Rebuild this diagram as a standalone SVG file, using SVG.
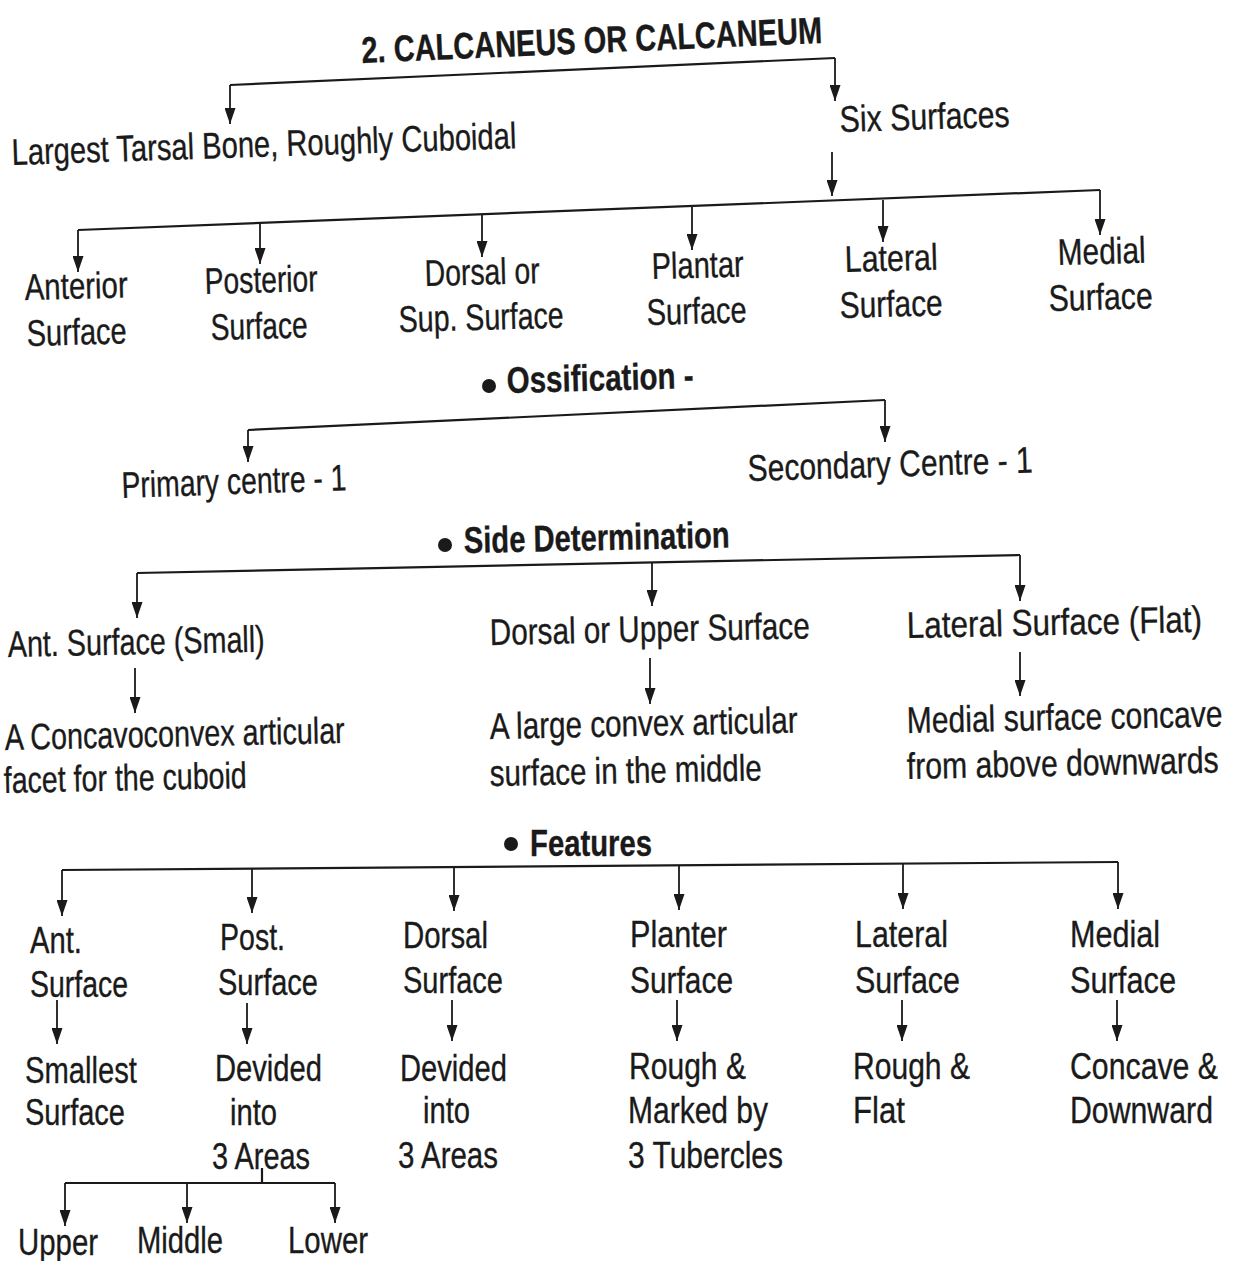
<svg xmlns="http://www.w3.org/2000/svg" width="1247" height="1261" viewBox="0 0 1247 1261">
<defs>
<marker id="ah" viewBox="0 0 16 11" markerWidth="16" markerHeight="11" refX="16" refY="5.5" orient="auto" markerUnits="userSpaceOnUse">
<path d="M0,0 L16,5.5 L0,11 z" fill="#1a1a1a"/>
</marker>
<style>
text{font-family:"Liberation Sans",Arial,sans-serif;font-size:37px;fill:#1a1a1a;stroke:#1a1a1a;stroke-width:0.35}
.b{font-weight:bold}
.t{font-size:37px;font-weight:bold}
.c{fill:none;stroke:#1a1a1a;stroke-width:2.2}
.a{fill:none;stroke:#1a1a1a;stroke-width:1.8;marker-end:url(#ah)}
.dot{fill:#1a1a1a}
</style>
</defs>
<rect width="1247" height="1261" fill="#ffffff"/>

<g id="connectors">
<path class="c" d="M230,85 L835,58"/>
<path class="a" d="M230,85 L230,124"/>
<path class="a" d="M835,58 L835,101"/>
<path class="a" d="M832,152 L832,196"/>
<path class="c" d="M78,230 L1100,190"/>
<path class="a" d="M78,230 L78,272"/>
<path class="a" d="M260,223 L260,264"/>
<path class="a" d="M482,215 L482,257"/>
<path class="a" d="M692,207 L692,250"/>
<path class="a" d="M883,200 L883,242"/>
<path class="a" d="M1100,190 L1100,235"/>
<path class="c" d="M248,430 L885,400"/>
<path class="a" d="M248,430 L248,462"/>
<path class="a" d="M885,400 L885,442"/>
<path class="c" d="M137,573 L1020,555"/>
<path class="a" d="M137,573 L137,618"/>
<path class="a" d="M652,563 L652,606"/>
<path class="a" d="M1020,555 L1020,601"/>
<path class="a" d="M135,668 L135,713"/>
<path class="a" d="M650,658 L650,704"/>
<path class="a" d="M1020,652 L1020,696"/>
<path class="c" d="M62,870 L1118,862"/>
<path class="a" d="M62,870 L62,916"/>
<path class="a" d="M252,869 L252,913"/>
<path class="a" d="M454,867 L454,911"/>
<path class="a" d="M679,866 L679,910"/>
<path class="a" d="M903,864 L903,909"/>
<path class="a" d="M1118,862 L1118,909"/>
<path class="a" d="M57,1000 L57,1044"/>
<path class="a" d="M247,1003 L247,1044"/>
<path class="a" d="M452,1000 L452,1041"/>
<path class="a" d="M677,1000 L677,1041"/>
<path class="a" d="M902,1000 L902,1041"/>
<path class="a" d="M1117,1000 L1117,1041"/>
<path class="c" d="M262,1168 L262,1183 M65,1183 L335,1183"/>
<path class="a" d="M65,1183 L65,1226"/>
<path class="a" d="M187,1183 L187,1223"/>
<path class="a" d="M335,1183 L335,1223"/>
</g>

<g id="title"><text class="t" x="362" y="63" textLength="461" lengthAdjust="spacingAndGlyphs" transform="rotate(-2.5 362 63)">2. CALCANEUS OR CALCANEUM</text></g>
<g id="n-largest"><text x="12" y="165" textLength="505" lengthAdjust="spacingAndGlyphs" transform="rotate(-1.9 12 165)">Largest Tarsal Bone, Roughly Cuboidal</text></g>
<g id="n-six"><text x="840" y="132" textLength="170" lengthAdjust="spacingAndGlyphs" transform="rotate(-1.8 840 132)">Six Surfaces</text></g>

<g id="n-anterior"><text x="25" y="300" textLength="103" lengthAdjust="spacingAndGlyphs" transform="rotate(-1.5 25 300)">Anterior</text><text x="27" y="346" textLength="100" lengthAdjust="spacingAndGlyphs" transform="rotate(-1.5 27 346)">Surface</text></g>
<g id="n-posterior"><text x="205" y="294" textLength="113" lengthAdjust="spacingAndGlyphs" transform="rotate(-1.5 205 294)">Posterior</text><text x="211" y="340" textLength="97" lengthAdjust="spacingAndGlyphs" transform="rotate(-1.5 211 340)">Surface</text></g>
<g id="n-dorsal"><text x="425" y="286" textLength="115" lengthAdjust="spacingAndGlyphs" transform="rotate(-1.5 425 286)">Dorsal or</text><text x="399" y="332" textLength="165" lengthAdjust="spacingAndGlyphs" transform="rotate(-1.5 399 332)">Sup. Surface</text></g>
<g id="n-plantar"><text x="652" y="279" textLength="92" lengthAdjust="spacingAndGlyphs" transform="rotate(-1.5 652 279)">Plantar</text><text x="647" y="325" textLength="100" lengthAdjust="spacingAndGlyphs" transform="rotate(-1.5 647 325)">Surface</text></g>
<g id="n-lateral"><text x="845" y="272" textLength="93" lengthAdjust="spacingAndGlyphs" transform="rotate(-1.5 845 272)">Lateral</text><text x="840" y="318" textLength="103" lengthAdjust="spacingAndGlyphs" transform="rotate(-1.5 840 318)">Surface</text></g>
<g id="n-medial"><text x="1058" y="265" textLength="88" lengthAdjust="spacingAndGlyphs" transform="rotate(-1.5 1058 265)">Medial</text><text x="1049" y="311" textLength="104" lengthAdjust="spacingAndGlyphs" transform="rotate(-1.5 1049 311)">Surface</text></g>

<g id="h-ossification"><circle class="dot" cx="489" cy="386" r="7"/><text class="b" x="507" y="393" textLength="187" lengthAdjust="spacingAndGlyphs" transform="rotate(-1.5 507 393)">Ossification -</text></g>
<g id="n-primary"><text x="122" y="498" textLength="225" lengthAdjust="spacingAndGlyphs" transform="rotate(-2 122 498)">Primary centre - 1</text></g>
<g id="n-secondary"><text x="748" y="481" textLength="285" lengthAdjust="spacingAndGlyphs" transform="rotate(-1.7 748 481)">Secondary Centre - 1</text></g>

<g id="h-side"><circle class="dot" cx="445" cy="545" r="7"/><text class="b" x="464" y="553" textLength="266" lengthAdjust="spacingAndGlyphs" transform="rotate(-1.2 464 553)">Side Determination</text></g>
<g id="n-ant-small"><text x="8" y="657" textLength="257" lengthAdjust="spacingAndGlyphs" transform="rotate(-1.2 8 657)">Ant. Surface (Small)</text></g>
<g id="n-dorsal-upper"><text x="490" y="645" textLength="320" lengthAdjust="spacingAndGlyphs" transform="rotate(-1.2 490 645)">Dorsal or Upper Surface</text></g>
<g id="n-lateral-flat"><text transform="translate(907 638) rotate(-1.2) scale(0.85 1)">Lateral Surface (Flat)</text></g>
<g id="n-concavoconvex"><text x="5" y="750" textLength="340" lengthAdjust="spacingAndGlyphs" transform="rotate(-1.2 5 750)">A Concavoconvex articular</text><text x="4" y="793" textLength="243" lengthAdjust="spacingAndGlyphs" transform="rotate(-1.2 4 793)">facet for the cuboid</text></g>
<g id="n-large-convex"><text x="490" y="739" textLength="308" lengthAdjust="spacingAndGlyphs" transform="rotate(-1.2 490 739)">A large convex articular</text><text x="490" y="786" textLength="272" lengthAdjust="spacingAndGlyphs" transform="rotate(-1.2 490 786)">surface in the middle</text></g>
<g id="n-medial-concave"><text transform="translate(907 733) rotate(-1.2) scale(0.813 1)">Medial surface concave</text><text transform="translate(907 779) rotate(-1.2) scale(0.816 1)">from above downwards</text></g>

<g id="h-features"><circle class="dot" cx="511" cy="844" r="7"/><text class="b" x="530" y="856" textLength="122" lengthAdjust="spacingAndGlyphs">Features</text></g>
<g id="f-ant"><text x="30" y="953" textLength="52" lengthAdjust="spacingAndGlyphs">Ant.</text><text x="30" y="997" textLength="98" lengthAdjust="spacingAndGlyphs">Surface</text></g>
<g id="f-post"><text x="220" y="950" textLength="65" lengthAdjust="spacingAndGlyphs">Post.</text><text x="218" y="995" textLength="100" lengthAdjust="spacingAndGlyphs">Surface</text></g>
<g id="f-dorsal"><text x="403" y="948" textLength="85" lengthAdjust="spacingAndGlyphs">Dorsal</text><text x="403" y="993" textLength="100" lengthAdjust="spacingAndGlyphs">Surface</text></g>
<g id="f-planter"><text x="630" y="947" textLength="97" lengthAdjust="spacingAndGlyphs">Planter</text><text x="630" y="993" textLength="103" lengthAdjust="spacingAndGlyphs">Surface</text></g>
<g id="f-lateral"><text x="855" y="947" textLength="93" lengthAdjust="spacingAndGlyphs">Lateral</text><text x="855" y="993" textLength="105" lengthAdjust="spacingAndGlyphs">Surface</text></g>
<g id="f-medial"><text x="1070" y="947" textLength="90" lengthAdjust="spacingAndGlyphs">Medial</text><text x="1070" y="993" textLength="106" lengthAdjust="spacingAndGlyphs">Surface</text></g>

<g id="d-smallest"><text x="25" y="1083" textLength="112" lengthAdjust="spacingAndGlyphs">Smallest</text><text x="25" y="1125" textLength="100" lengthAdjust="spacingAndGlyphs">Surface</text></g>
<g id="d-post"><text x="215" y="1081" textLength="107" lengthAdjust="spacingAndGlyphs">Devided</text><text x="230" y="1125" textLength="47" lengthAdjust="spacingAndGlyphs">into</text><text x="212" y="1169" textLength="98" lengthAdjust="spacingAndGlyphs">3 Areas</text></g>
<g id="d-dorsal"><text x="400" y="1081" textLength="107" lengthAdjust="spacingAndGlyphs">Devided</text><text x="423" y="1123" textLength="47" lengthAdjust="spacingAndGlyphs">into</text><text x="398" y="1168" textLength="100" lengthAdjust="spacingAndGlyphs">3 Areas</text></g>
<g id="d-planter"><text x="629" y="1079" textLength="117" lengthAdjust="spacingAndGlyphs">Rough &amp;</text><text x="628" y="1123" textLength="140" lengthAdjust="spacingAndGlyphs">Marked by</text><text x="628" y="1168" textLength="155" lengthAdjust="spacingAndGlyphs">3 Tubercles</text></g>
<g id="d-lateral"><text x="853" y="1079" textLength="117" lengthAdjust="spacingAndGlyphs">Rough &amp;</text><text x="853" y="1123" textLength="52" lengthAdjust="spacingAndGlyphs">Flat</text></g>
<g id="d-medial"><text transform="translate(1070 1079) scale(0.818 1)">Concave &amp;</text><text transform="translate(1070 1123) scale(0.818 1)">Downward</text></g>

<g id="a-upper"><text x="18" y="1255" textLength="80" lengthAdjust="spacingAndGlyphs">Upper</text></g>
<g id="a-middle"><text x="137" y="1253" textLength="86" lengthAdjust="spacingAndGlyphs">Middle</text></g>
<g id="a-lower"><text x="288" y="1253" textLength="80" lengthAdjust="spacingAndGlyphs">Lower</text></g>
</svg>
